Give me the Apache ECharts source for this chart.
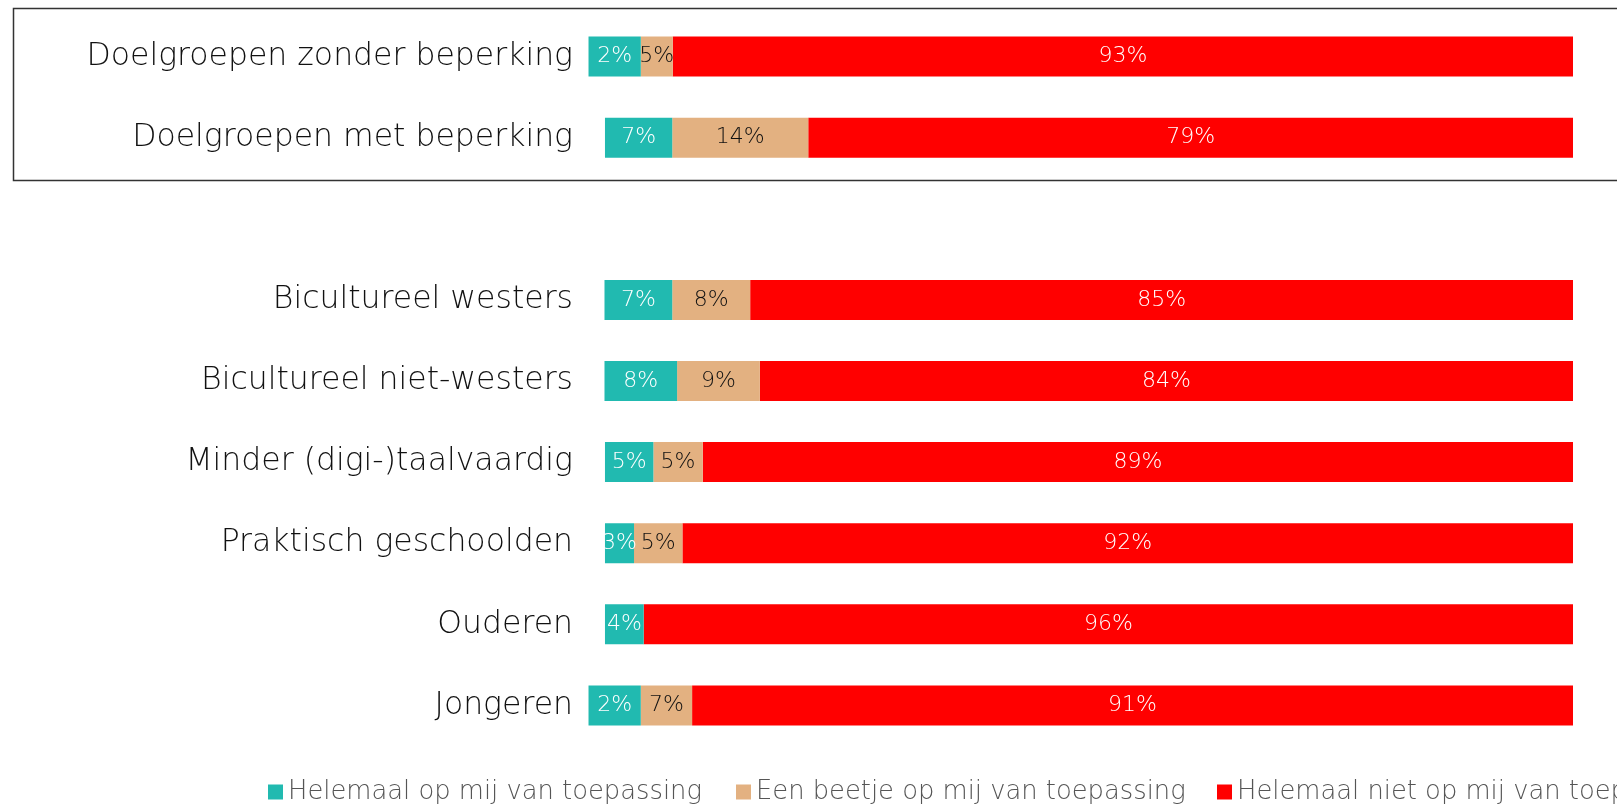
<!DOCTYPE html>
<html>
<head>
<meta charset="utf-8">
<title>Doelgroepen</title>
<script src="https://cdn.jsdelivr.net/npm/echarts@6/dist/echarts.min.js"></script>
<style>
  html, body {
    margin: 0;
    padding: 0;
    background: #ffffff;
  }
  #chart {
    width: 1617px;
    height: 804px;
  }
</style>
</head>
<body>
<div id="chart"></div>
<script>
  // categorieën (lege regel tussen de twee blokken)
  var categories = [
    "Doelgroepen zonder beperking",
    "Doelgroepen met beperking",
    "",
    "Bicultureel westers",
    "Bicultureel niet-westers",
    "Minder (digi-)taalvaardig",
    "Praktisch geschoolden",
    "Ouderen",
    "Jongeren"
  ];

  var seriesNames = [
    "Helemaal op mij van toepassing",
    "Een beetje op mij van toepassing",
    "Helemaal niet op mij van toepassing"
  ];

  // balklengtes zoals getekend
  var valHelemaal = [5.4, 6.95, null, 7.0, 7.5, 5.0, 3.0, 4.0, 5.4];
  var valBeetje = [3.3, 14.05, null, 8.05, 8.55, 5.1, 5.0, null, 5.3];
  var valNiet = [93, 79, null, 85, 84, 89.9, 92, 96, 91];

  // percentages zoals in de labels
  var lblHelemaal = [2, 7, null, 7, 8, 5, 3, 4, 2];
  var lblBeetje = [5, 14, null, 8, 9, 5, 5, null, 7];
  var lblNiet = [93, 79, null, 85, 84, 89, 92, 96, 91];

  var colors = ["#21BAB0", "#E3B181", "#FF0000"];

  var fontFam = "'DejaVu Sans', 'Noto Sans', sans-serif";

  var myChart = echarts.init(document.getElementById("chart"));

  function makeSeries(idx, values, labels, labelColor) {
    return {
      name: seriesNames[idx],
      type: "bar",
      stack: "totaal",
      barWidth: 40,
      clip: false,
      itemStyle: {
        color: colors[idx],
      },
      label: {
        show: true,
        position: "inside",
        color: labelColor,
        fontFamily: fontFam,
        fontWeight: 200,
        fontSize: 22,
        padding: [4, 0, 0, 0],
        formatter: function (p) {
          var v = labels[p.dataIndex];
          return v == null ? "" : v + "%";
        },
      },
      data: values,
    };
  }

  myChart.setOption({
    animation: false,
    grid: {
      left: 589,
      right: 44,
      top: 16,
      bottom: 58,
      containLabel: false,
    },
    xAxis: {
      type: "value",
      inverse: true, // stapel van rechts naar links
      min: 0,
      max: 101.65,
      show: false,
    },
    yAxis: {
      type: "category",
      inverse: true,
      data: categories,
      axisLine: {show: false},
      axisTick: {show: false},
      splitLine: {show: false},
      axisLabel: {
        margin: 16,
        color: "#111111",
        fontFamily: fontFam,
        fontWeight: 200,
        fontSize: 31.5,
        padding: [5, 0, 0, 0],
      },
    },
    legend: [0, 1, 2].map(function (i) {
      return {
        data: [seriesNames[i]],
        left: [263, 731, 1212][i],
        top: 774,
        itemWidth: 15,
        itemHeight: 15,
        icon: "rect",
        selectedMode: false,
        textStyle: {
          color: "#555555",
          fontFamily: fontFam,
          fontWeight: 200,
          fontSize: 25.8,
        },
      };
    }),
    graphic: [
      {
        type: "rect",
        left: 11,
        top: 6,
        shape: {width: 1640, height: 172},
        style: {fill: null, stroke: "#333333", lineWidth: 1.5},
        silent: true,
      },
    ],
    // rood eerst: stapelt vanaf de rechterkant
    series: [
      makeSeries(2, valNiet, lblNiet, "#ffffff"),
      makeSeries(1, valBeetje, lblBeetje, "#111111"),
      makeSeries(0, valHelemaal, lblHelemaal, "#ffffff"),
    ],
  });
</script>
</body>
</html>
